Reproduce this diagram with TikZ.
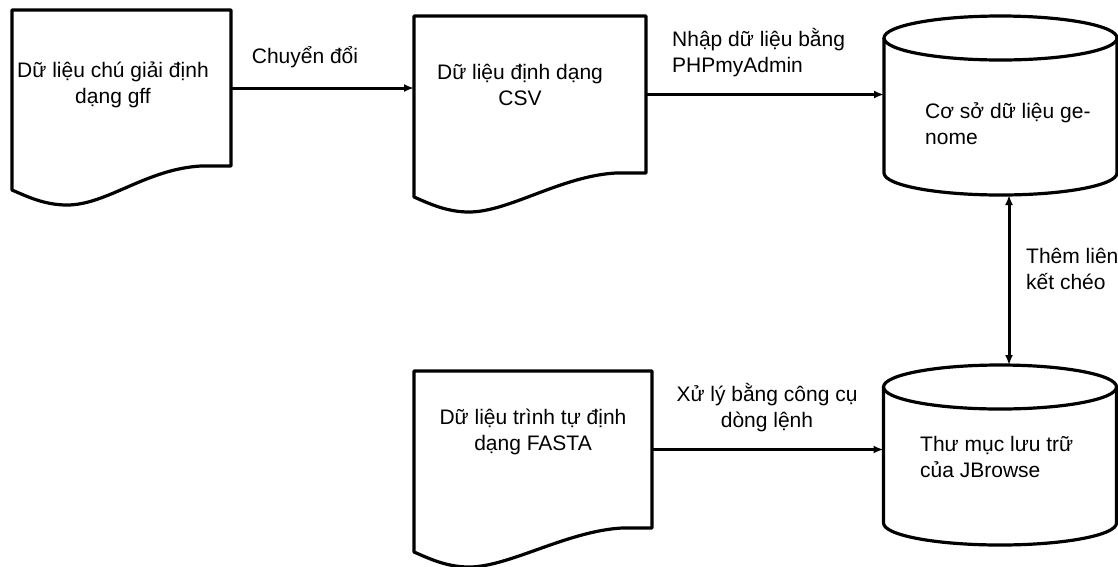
\documentclass[tikz,border=0pt]{standalone}
\usepackage{fontspec}
\setmainfont{Liberation Sans}
\usepackage{tikz}
\usetikzlibrary{arrows.meta,calc}
\tikzset{box/.style={inner sep=0pt, outer sep=0pt},
shapeline/.style={draw, line width=3.2pt, line join=round},
arrow/.style={draw, line width=3pt, -{Latex[length=10pt,width=8pt]}},
twoway/.style={draw, line width=3pt, {Latex[length=10pt,width=8pt]}-{Latex[length=10pt,width=8pt]}},
txt/.style={font=\fontsize{21pt}{26pt}\selectfont, align=center, inner sep=0pt},
txtl/.style={font=\fontsize{21pt}{26pt}\selectfont, align=left, inner sep=0pt, anchor=west}}
% document outline with wavy bottom
\newcommand{\docoutline}[1]{%
  \draw[shapeline] (#1.north west) -- (#1.north east) -- (#1.south east)
    -- ([xshift=-30pt]#1.south east)
    .. controls ([xshift=-85pt,yshift=-3pt]#1.south east) and ([xshift=95pt,yshift=-39pt]#1.south west) .. ([xshift=55pt,yshift=-39pt]#1.south west)
    .. controls ([xshift=32pt,yshift=-39pt]#1.south west) and ([xshift=14pt,yshift=-30pt]#1.south west) .. ([yshift=-24pt]#1.south west)
    -- cycle;}
% database cylinder
\newcommand{\dboutline}[1]{%
  \draw[shapeline] ([yshift=-22pt]#1.north west) -- ([yshift=22pt]#1.south west)
    arc[start angle=180, end angle=360, x radius=116.5pt, y radius=22pt]
    -- ([yshift=-22pt]#1.north east);
  \draw[shapeline] ([yshift=-22pt]#1.north) ellipse[x radius=116.5pt, y radius=22pt];}

\begin{document}
\begin{tikzpicture}[x=1pt, y=-1pt]
    \useasboundingbox (0,0) rectangle (1118,566);

    % boxes for the shapes
    \node[box, minimum width=219pt, minimum height=156pt] (gff) at (121.5,88) {};
    \node[box, minimum width=232pt, minimum height=157pt] (csv) at (530,94.5) {};
    \node[box, minimum width=238pt, minimum height=157pt] (fasta) at (533,449.5) {};
    \node[box, minimum width=233pt, minimum height=179pt] (db) at (1000.5,105.5) {};
    \node[box, minimum width=233pt, minimum height=180pt] (jb) at (1000,455) {};

    \docoutline{gff}
    \docoutline{csv}
    \docoutline{fasta}
    \dboutline{db}
    \dboutline{jb}

    % texts inside
    \node[txt] (gfftext) at (113,85) {Dữ liệu chú giải định\\dạng gff};
    \node[txt] (csvtext) at (520,85) {Dữ liệu định dạng\\CSV};
    \node[txt] (fastatext) at (533,432) {Dữ liệu trình tự định\\dạng FASTA};
    \node[txtl] (dbtext) at (925,124) {Cơ sở dữ liệu ge-\\nome};
    \node[txtl] (jbtext) at (920,457) {Thư mục lưu trữ\\của JBrowse};

    % connectors
    \draw[arrow] (gff.east) -- (gff.east -| csv.west);
    \draw[arrow] (csv.east) -- (csv.east -| db.west);
    \draw[arrow] (fasta.east) -- (fasta.east -| jb.west);
    \draw[twoway] ([xshift=8.5pt]db.south) -- ([xshift=9pt]jb.north);

    % labels
    \node[txt] (conv) at (305,57) {Chuyển đổi};
    \node[txtl] (import) at (672,53) {Nhập dữ liệu bằng\\PHPmyAdmin};
    \node[txtl] (link) at (1026,269) {Thêm liên\\kết chéo};
    \node[txt] (cli) at (767,408) {Xử lý bằng công cụ\\dòng lệnh};
\end{tikzpicture}
\end{document}
